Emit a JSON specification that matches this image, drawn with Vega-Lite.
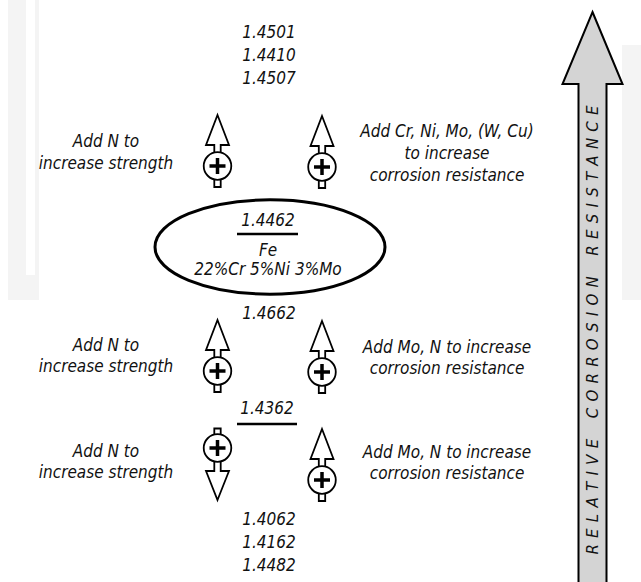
{
  "$schema": "https://vega.github.io/schema/vega-lite/v6.json",
  "width": 641,
  "height": 582,
  "padding": 0,
  "autosize": {"type": "none"},
  "background": "white",
  "config": {"view": {"stroke": null}, "point": {"opacity": 1}},
  "datasets": {
    "watermark": [
      {"x": 8, "x2": 39, "y": 0, "y2": 300, "c": "g"},
      {"x": 26, "x2": 35, "y": 0, "y2": 275, "c": "w"},
      {"x": 622, "x2": 641, "y": 45, "y2": 300, "c": "g"}
    ],
    "texts": [
      {"x": 269, "y": 33, "label": "1.4501"},
      {"x": 269, "y": 56, "label": "1.4410"},
      {"x": 269, "y": 79, "label": "1.4507"},
      {"x": 268, "y": 221, "label": "1.4462"},
      {"x": 268, "y": 251, "label": "Fe"},
      {"x": 268, "y": 270, "label": "22%Cr 5%Ni 3%Mo"},
      {"x": 269, "y": 314, "label": "1.4662"},
      {"x": 267, "y": 409, "label": "1.4362"},
      {"x": 269, "y": 520, "label": "1.4062"},
      {"x": 269, "y": 543, "label": "1.4162"},
      {"x": 269, "y": 566, "label": "1.4482"},
      {"x": 106, "y": 142, "label": "Add N to"},
      {"x": 106, "y": 164, "label": "increase strength"},
      {"x": 106, "y": 346, "label": "Add N to"},
      {"x": 106, "y": 367, "label": "increase strength"},
      {"x": 106, "y": 452, "label": "Add N to"},
      {"x": 106, "y": 473, "label": "increase strength"},
      {"x": 447, "y": 132, "label": "Add Cr, Ni, Mo, (W, Cu)"},
      {"x": 447, "y": 154, "label": "to increase"},
      {"x": 447, "y": 176, "label": "corrosion resistance"},
      {"x": 447, "y": 348, "label": "Add Mo, N to increase"},
      {"x": 447, "y": 369, "label": "corrosion resistance"},
      {"x": 447, "y": 453, "label": "Add Mo, N to increase"},
      {"x": 447, "y": 474, "label": "corrosion resistance"}
    ],
    "symbols": [
      {"x": 217.5, "y": 166, "dir": "up"},
      {"x": 322, "y": 167, "dir": "up"},
      {"x": 217.5, "y": 371, "dir": "up"},
      {"x": 322, "y": 372, "dir": "up"},
      {"x": 217.5, "y": 448, "dir": "down"},
      {"x": 322, "y": 480, "dir": "up"}
    ],
    "rules": [
      {"x": 237, "x2": 298, "y": 234},
      {"x": 237, "x2": 297, "y": 424}
    ],
    "ellipse": [{"x": 270, "y": 247}],
    "bigarrow": [{"x": 592.5, "y": 300, "label": "R\u00a0\u200aE\u00a0\u200aL\u00a0\u200aA\u00a0\u200aT\u00a0\u200aI\u00a0\u200aV\u00a0\u200aE\u00a0\u00a0\u00a0\u00a0\u200aC\u00a0\u200aO\u00a0\u200aR\u00a0\u200aR\u00a0\u200aO\u00a0\u200aS\u00a0\u200aI\u00a0\u200aO\u00a0\u200aN\u00a0\u00a0\u00a0\u00a0\u200aR\u00a0\u200aE\u00a0\u200aS\u00a0\u200aI\u00a0\u200aS\u00a0\u200aT\u00a0\u200aA\u00a0\u200aN\u00a0\u200aC\u00a0\u200aE", "ty": 330}]
  },
  "encoding": {
    "x": {"field": "x", "type": "quantitative", "scale": {"domain": [0, 641], "nice": false, "zero": false}, "axis": null},
    "y": {"field": "y", "type": "quantitative", "scale": {"domain": [0, 582], "nice": false, "zero": false, "reverse": true}, "axis": null}
  },
  "layer": [
    {
      "data": {"name": "watermark"},
      "mark": {"type": "rect"},
      "encoding": {
        "x2": {"field": "x2"},
        "y2": {"field": "y2"},
        "color": {"field": "c", "type": "nominal", "legend": null, "scale": {"domain": ["g", "w"], "range": ["#f4f4f4", "#ffffff"]}}
      }
    },
    {
      "data": {"name": "bigarrow"},
      "mark": {"type": "point", "shape": "M0,-2.88L0.3,-2.16L0.14,-2.16L0.14,3L-0.14,3L-0.14,-2.16L-0.3,-2.16Z", "size": 40000, "filled": true, "fill": "#d4d4d4", "stroke": "#000000", "strokeWidth": 2, "opacity": 1}
    },
    {
      "data": {"name": "bigarrow"},
      "mark": {"type": "text", "angle": 270, "align": "center", "baseline": "middle", "font": "DejaVu Sans", "fontStyle": "italic", "fontSize": 15, "color": "#111111"},
      "encoding": {
        "y": {"field": "ty", "type": "quantitative"},
        "text": {"field": "label"}
      }
    },
    {
      "data": {"name": "ellipse"},
      "mark": {"type": "point", "shape": "M-1,0A1,0.41,0,1,1,1,0A1,0.41,0,1,1,-1,0Z", "size": 52900, "filled": true, "fill": "#ffffff", "stroke": "#000000", "strokeWidth": 3, "opacity": 1}
    },
    {
      "data": {"name": "rules"},
      "mark": {"type": "rule", "stroke": "#000000", "strokeWidth": 2.5},
      "encoding": {"x2": {"field": "x2"}}
    },
    {
      "data": {"name": "symbols"},
      "mark": {"type": "point", "size": 400, "filled": true, "fill": "#ffffff", "stroke": "#000000", "strokeWidth": 1.8, "opacity": 1},
      "encoding": {
        "shape": {"field": "dir", "type": "nominal", "legend": null, "scale": {"domain": ["up", "down"], "range": ["M0,-5.1L1.15,-2.1L0.32,-2.1L0.32,2.1L-0.32,2.1L-0.32,-2.1L-1.15,-2.1Z", "M0,5.2L1.15,2.3L0.32,2.3L0.32,-1.95L-0.32,-1.95L-0.32,2.3L-1.15,2.3Z"]}}
      }
    },
    {
      "data": {"name": "symbols"},
      "mark": {"type": "point", "shape": "circle", "size": 760, "filled": true, "fill": "#ffffff", "stroke": "#000000", "strokeWidth": 1.8, "opacity": 1}
    },
    {
      "data": {"name": "symbols"},
      "mark": {"type": "point", "shape": "M-0.8,0L0.8,0M0,-0.8L0,0.8", "size": 400, "filled": false, "stroke": "#000000", "strokeWidth": 3.5, "opacity": 1}
    },
    {
      "data": {"name": "texts"},
      "mark": {"type": "text", "align": "center", "baseline": "middle", "font": "DejaVu Sans Condensed, DejaVu Sans", "fontStyle": "italic", "fontSize": 17, "color": "#111111"},
      "encoding": {"text": {"field": "label"}}
    }
  ]
}
